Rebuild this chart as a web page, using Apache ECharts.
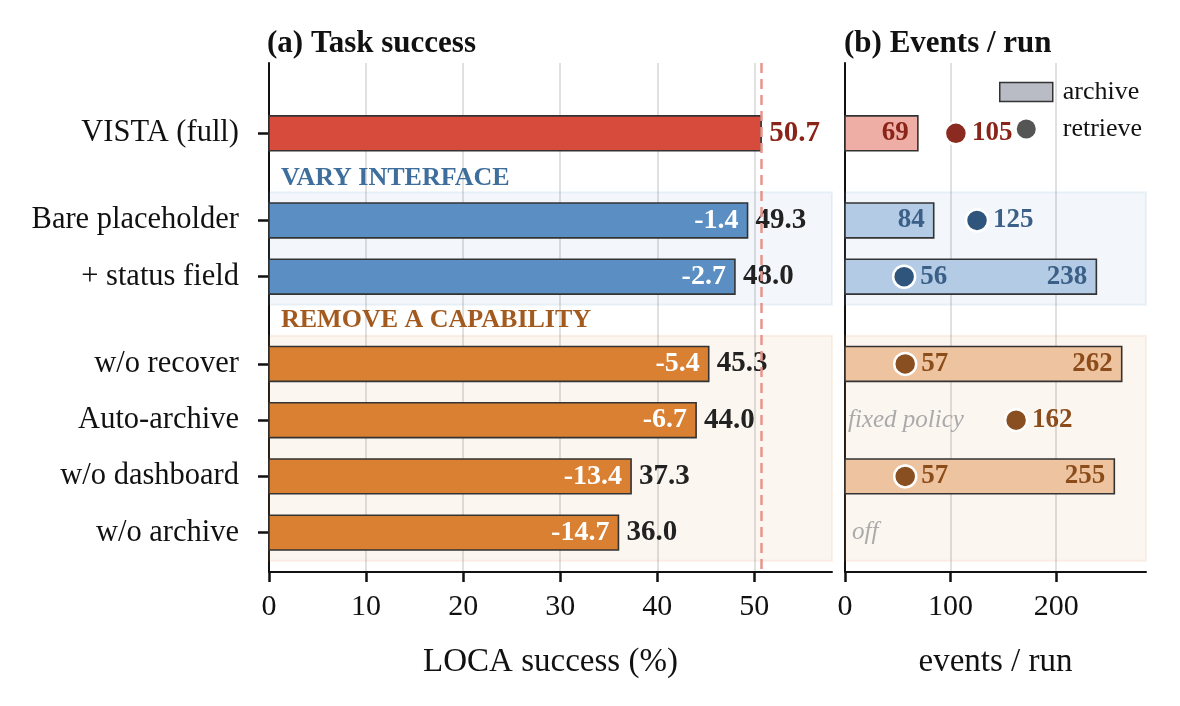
<!DOCTYPE html>
<html>
<head>
<meta charset="utf-8">
<title>Ablations</title>
<script src="https://cdn.jsdelivr.net/npm/echarts@6.0.0/dist/echarts.min.js"></script>
<style>html,body{margin:0;padding:0;background:#fff;overflow:hidden}</style>
</head>
<body>
<div id="main" style="width:1180px;height:706px"></div>
<script>
// rows, top to bottom; rowPos leaves a gap for the group headers
var rowLabels = ['VISTA (full)', 'Bare placeholder', '+ status field', 'w/o recover', 'Auto-archive', 'w/o dashboard', 'w/o archive'];
var rowPos = [0, 1.55, 2.55, 4.1, 5.1, 6.1, 7.1];
var rowGroup = [0, 1, 1, 2, 2, 2, 2];
var success = [50.7, 49.3, 48.0, 45.3, 44.0, 37.3, 36.0];
var delta = [null, -1.4, -2.7, -5.4, -6.7, -13.4, -14.7];
var archived = [69, 84, 238, 262, null, 255, null];
var retrieved = [105, 125, 56, 57, 162, 57, null];
var archiveNote = [null, null, null, null, 'fixed policy', null, 'off'];
var groupHeaders = ['VARY INTERFACE', 'REMOVE A CAPABILITY'];
var headerPos = [0.8, 3.33];
var bandRanges = [[1.05, 3.05], [3.6, 7.6]];
var ticksLeft = [0, 10, 20, 30, 40, 50];
var ticksRight = [0, 100, 200];
var baseline = 50.7;

var FONT = '"Liberation Serif", "Times New Roman", serif';
var BAR_H = 0.62;
var groupFill = ['#d64b3c', '#5b8fc3', '#d98033'];
var groupLight = ['#efaea5', '#b3cbe4', '#eec4a0'];
var groupDark = ['#8b2418', '#3b5f86', '#8b4c1a'];
var dotColor = ['#8b2a20', '#2f557c', '#8a4f20'];
var headerColor = ['#3d6e9c', '#a35a1e'];
var bandFill = ['rgba(91,143,195,0.07)', 'rgba(217,128,51,0.07)'];
var bandEdge = ['rgba(91,143,195,0.1)', 'rgba(217,128,51,0.1)'];

var chart = echarts.init(document.getElementById('main'));

function rowName(v) {
  for (var i = 0; i < rowPos.length; i++) {
    if (Math.abs(rowPos[i] - v) < 1e-6) return rowLabels[i];
  }
  return '';
}

function gridLines(vals) {
  return vals.filter(function (v) { return v > 0; }).map(function (v) { return { xAxis: v }; });
}

// shaded group bands, drawn across the whole grid width
function renderBand(params, api) {
  var cs = params.coordSys;
  var g = api.value(2);
  var a = api.coord([0, api.value(0)]), b = api.coord([0, api.value(1)]);
  return {
    type: 'rect',
    shape: { x: cs.x, y: a[1], width: cs.width, height: b[1] - a[1] },
    style: { fill: bandFill[g], stroke: bandEdge[g], lineWidth: 2 }
  };
}

function renderHeader(params, api) {
  var i = params.dataIndex;
  var p = api.coord([0, api.value(0)]);
  return {
    type: 'text',
    style: {
      x: p[0] + 12, y: p[1], text: groupHeaders[i], fill: headerColor[i],
      fontFamily: FONT, fontSize: 26, fontWeight: 'bold', align: 'left', verticalAlign: 'middle'
    }
  };
}

function renderSuccess(params, api) {
  var i = params.dataIndex;
  var y = api.value(1);
  var p0 = api.coord([0, y]), p1 = api.coord([api.value(0), y]);
  var h = api.size([0, BAR_H])[1];
  var g = rowGroup[i];
  var kids = [
    { type: 'rect', shape: { x: p0[0], y: p0[1] - h / 2, width: p1[0] - p0[0], height: h },
      style: { fill: groupFill[g], stroke: '#333', lineWidth: 1.6 } },
    { type: 'text', style: { x: p1[0] + 8, y: p1[1], text: success[i].toFixed(1),
      fill: i === 0 ? groupDark[0] : '#222', fontFamily: FONT, fontSize: 29, fontWeight: 'bold',
      align: 'left', verticalAlign: 'middle' } }
  ];
  if (delta[i] != null) {
    kids.push({ type: 'text', style: { x: p1[0] - 9, y: p1[1], text: delta[i].toFixed(1), fill: '#fff',
      fontFamily: FONT, fontSize: 28, fontWeight: 'bold', align: 'right', verticalAlign: 'middle' } });
  }
  return { type: 'group', children: kids };
}

function renderArchive(params, api) {
  var i = params.dataIndex;
  var y = rowPos[i];
  var p0 = api.coord([0, y]);
  if (archived[i] == null) {
    if (!archiveNote[i]) return null;
    return { type: 'text', style: { x: p0[0] + (archiveNote[i] === 'off' ? 7 : 3), y: p0[1], text: archiveNote[i],
      fill: '#aaaaaa', fontFamily: FONT, fontSize: 25, fontStyle: 'italic', align: 'left', verticalAlign: 'middle' } };
  }
  var p1 = api.coord([archived[i], y]);
  var h = api.size([0, BAR_H])[1];
  var g = rowGroup[i];
  return { type: 'group', children: [
    { type: 'rect', shape: { x: p0[0], y: p0[1] - h / 2, width: p1[0] - p0[0], height: h },
      style: { fill: groupLight[g], stroke: '#333', lineWidth: 1.6 } },
    { type: 'text', style: { x: p1[0] - 9, y: p1[1], text: String(archived[i]), fill: groupDark[g],
      fontFamily: FONT, fontSize: 27, fontWeight: 'bold', align: 'right', verticalAlign: 'middle' } }
  ] };
}

function renderRetrieve(params, api) {
  var i = params.dataIndex;
  if (retrieved[i] == null) return null;
  var p = api.coord([retrieved[i], rowPos[i]]);
  var g = rowGroup[i];
  return { type: 'group', children: [
    { type: 'circle', shape: { cx: p[0], cy: p[1], r: 11 }, style: { fill: dotColor[g], stroke: '#fff', lineWidth: 2.5 } },
    { type: 'text', style: { x: p[0] + 16, y: p[1], text: String(retrieved[i]), fill: groupDark[g],
      fontFamily: FONT, fontSize: 27, fontWeight: 'bold', align: 'left', verticalAlign: 'middle' } }
  ] };
}

var bandData = bandRanges.map(function (r, g) { return [r[0], r[1], g]; });
var gridStyle = { color: '#e0e0e0', width: 2, type: 'solid' };

function xAxisFor(idx, max, ticks, name) {
  return {
    type: 'value', gridIndex: idx, min: 0, max: max, interval: ticks[1],
    name: name, nameLocation: 'middle', nameGap: 74,
    nameTextStyle: { fontFamily: FONT, fontSize: 33, color: '#111' },
    axisLine: { show: true, onZero: false, lineStyle: { color: '#111', width: 2 } },
    axisTick: { show: true, customValues: ticks, length: 10, lineStyle: { color: '#111', width: 2.5 } },
    axisLabel: { customValues: ticks, fontFamily: FONT, fontSize: 30, color: '#111', margin: 20 },
    splitLine: { show: false }
  };
}

function yAxisFor(idx, showLabels) {
  return {
    type: 'value', gridIndex: idx, inverse: true, min: -1.25, max: 7.8,
    axisLine: { show: true, onZero: false, lineStyle: { color: '#111', width: 2 } },
    axisTick: { show: showLabels, customValues: rowPos, length: 11, lineStyle: { color: '#111', width: 2.5 } },
    axisLabel: { show: showLabels, customValues: rowPos, formatter: rowName,
      fontFamily: FONT, fontSize: 30.5, color: '#111', margin: 30 },
    splitLine: { show: false }
  };
}

var option = {
  animation: false,
  backgroundColor: '#fff',
  title: [
    { text: '(a) Task success', left: 267, top: 28, padding: 0,
      textStyle: { fontFamily: FONT, fontSize: 31, fontWeight: 'bold', color: '#111' } },
    { text: '(b) Events / run', left: 844, top: 28, padding: 0,
      textStyle: { fontFamily: FONT, fontSize: 31, fontWeight: 'bold', color: '#111' } }
  ],
  legend: {
    left: 999, top: 79, orient: 'vertical', padding: 0, itemGap: 11,
    itemWidth: 53, itemHeight: 19, selectedMode: false,
    textStyle: { fontFamily: FONT, fontSize: 26, color: '#111', padding: [0, 0, 0, 5] },
    data: [
      { name: 'archive', icon: 'rect', itemStyle: { color: '#b9bcc4', borderColor: '#333', borderWidth: 1.5 } },
      { name: 'retrieve', icon: 'circle', itemStyle: { color: '#555', borderWidth: 0 } }
    ]
  },
  grid: [
    { left: 269, right: 348, top: 63, bottom: 134 },
    { left: 845, right: 34, top: 63, bottom: 134 }
  ],
  xAxis: [
    xAxisFor(0, 58, ticksLeft, 'LOCA success (%)'),
    xAxisFor(1, 285, ticksRight, 'events / run')
  ],
  yAxis: [yAxisFor(0, true), yAxisFor(1, false)],
  series: [
    { type: 'custom', name: 'bandsA', xAxisIndex: 0, yAxisIndex: 0, z: 1, silent: true,
      renderItem: renderBand, data: bandData,
      markLine: { z: 0, silent: true, symbol: ['none', 'none'], label: { show: false }, lineStyle: gridStyle,
        emphasis: { disabled: true }, data: gridLines(ticksLeft) } },
    { type: 'custom', name: 'bandsB', xAxisIndex: 1, yAxisIndex: 1, z: 1, silent: true,
      renderItem: renderBand, data: bandData,
      markLine: { z: 0, silent: true, symbol: ['none', 'none'], label: { show: false }, lineStyle: gridStyle,
        emphasis: { disabled: true }, data: gridLines(ticksRight) } },
    { type: 'custom', name: 'headers', xAxisIndex: 0, yAxisIndex: 0, z: 2, silent: true,
      renderItem: renderHeader, data: headerPos.map(function (p) { return [p]; }) },
    { type: 'custom', name: 'success', xAxisIndex: 0, yAxisIndex: 0, z: 3,
      renderItem: renderSuccess,
      data: rowPos.map(function (p, i) { return [success[i], p]; }),
      markLine: { silent: true, symbol: ['none', 'none'], label: { show: false },
        lineStyle: { color: '#e8958a', width: 2.5, type: [10, 6] }, data: [{ xAxis: baseline }] } },
    { type: 'custom', name: 'archive', xAxisIndex: 1, yAxisIndex: 1, z: 3,
      renderItem: renderArchive,
      data: rowPos.map(function (p, i) { return [archived[i] == null ? 0 : archived[i], p]; }) },
    { type: 'custom', name: 'retrieve', xAxisIndex: 1, yAxisIndex: 1, z: 4,
      renderItem: renderRetrieve,
      data: rowPos.map(function (p, i) { return [retrieved[i] == null ? 0 : retrieved[i], p]; }) }
  ]
};

chart.setOption(option);
</script>
</body>
</html>
